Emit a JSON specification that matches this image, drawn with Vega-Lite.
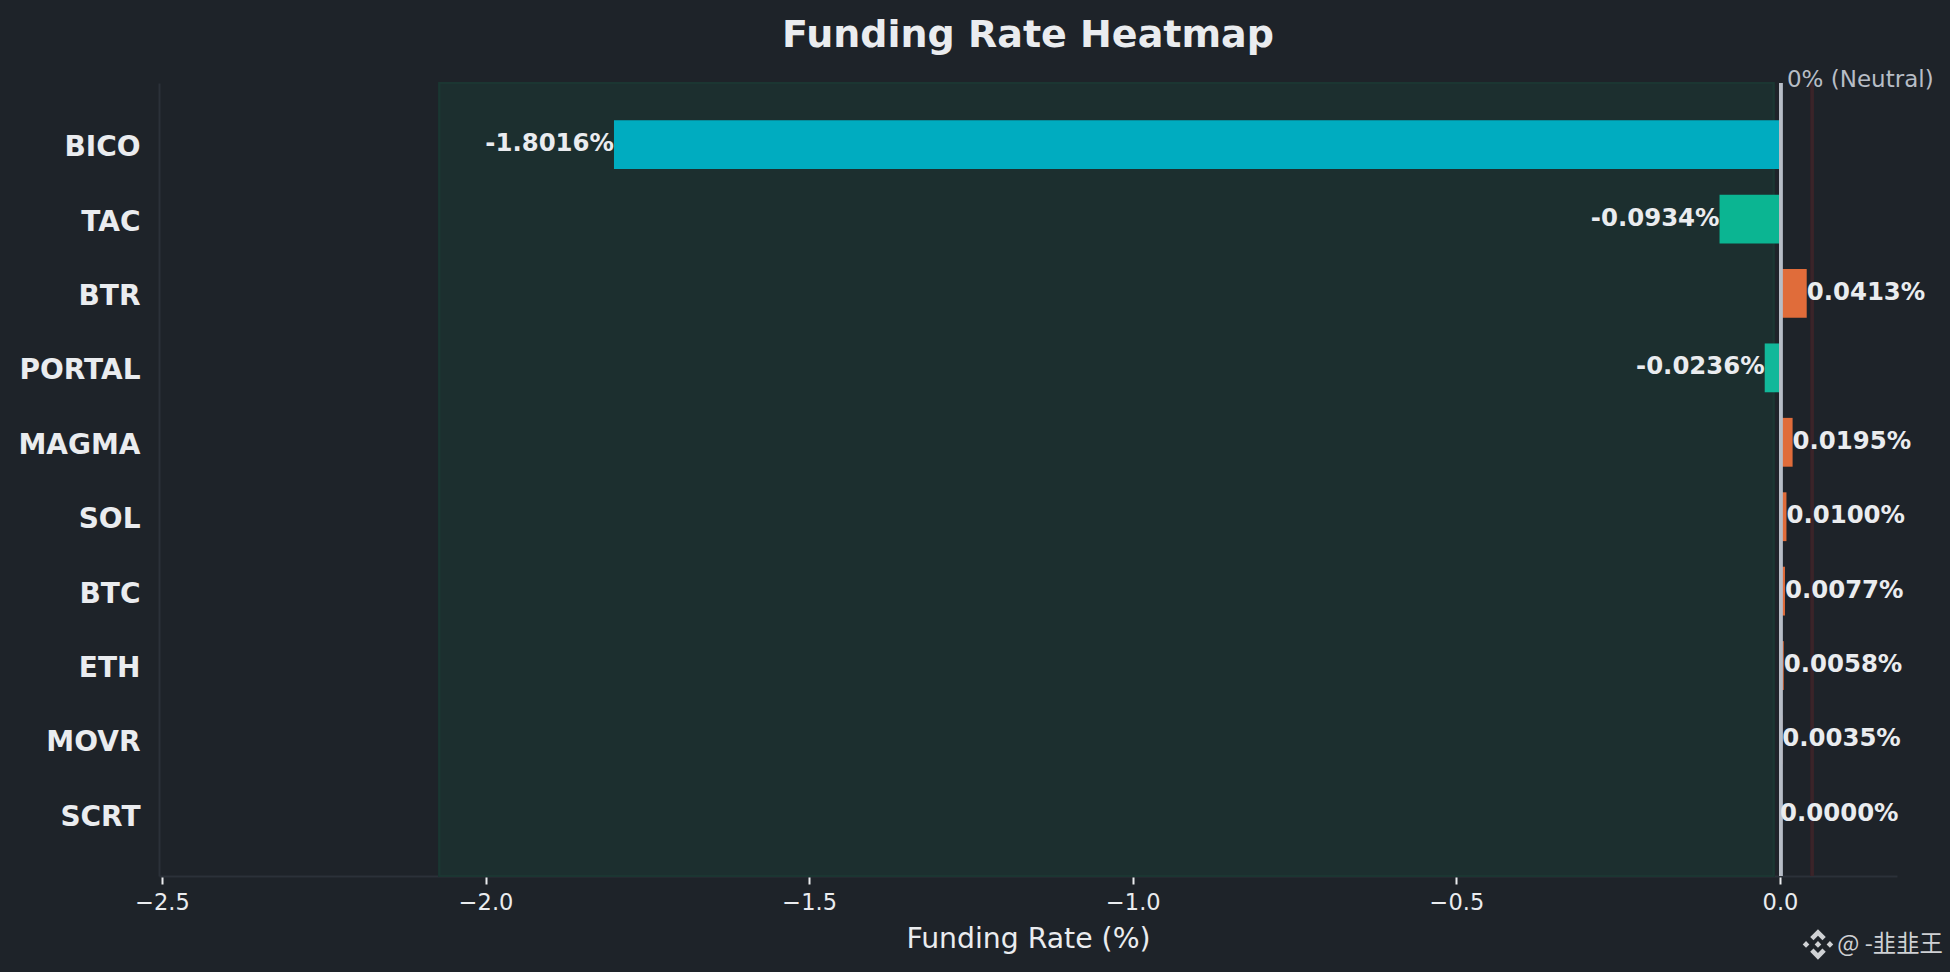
{
  "$schema": "https://vega.github.io/schema/vega-lite/v6.json",
  "width": 1738,
  "height": 793,
  "autosize": {"type": "none"},
  "padding": {"left": 159, "top": 83, "right": 53, "bottom": 96},
  "background": "#1e2329",
  "title": {
    "text": "Funding Rate Heatmap",
    "anchor": "middle",
    "font": "DejaVu Sans",
    "fontSize": 38,
    "fontWeight": "bold",
    "color": "#eaecef",
    "offset": 13.5
  },
  "config": {"view": {"stroke": null}},
  "datasets": {
    "rates": [
      {"symbol": "BICO", "rate": -1.8016, "label": "-1.8016%"},
      {"symbol": "TAC", "rate": -0.0934, "label": "-0.0934%"},
      {"symbol": "BTR", "rate": 0.0413, "label": "0.0413%"},
      {"symbol": "PORTAL", "rate": -0.0236, "label": "-0.0236%"},
      {"symbol": "MAGMA", "rate": 0.0195, "label": "0.0195%"},
      {"symbol": "SOL", "rate": 0.01, "label": "0.0100%"},
      {"symbol": "BTC", "rate": 0.0077, "label": "0.0077%"},
      {"symbol": "ETH", "rate": 0.0058, "label": "0.0058%"},
      {"symbol": "MOVR", "rate": 0.0035, "label": "0.0035%"},
      {"symbol": "SCRT", "rate": 0.0, "label": "0.0000%"}
    ]
  },
  "data": {"name": "rates"},
  "encoding": {
    "y": {
      "field": "symbol",
      "type": "nominal",
      "sort": null,
      "scale": {"paddingInner": 0.344, "paddingOuter": 0.5},
      "axis": {
        "title": null,
        "ticks": false,
        "labelFont": "DejaVu Sans",
        "labelFontSize": 28,
        "labelFontWeight": "bold",
        "labelColor": "#eaecef",
        "labelPadding": 19,
        "labelOffset": 3.5,
        "domainColor": "#2b3139",
        "domainWidth": 2,
        "grid": false
      }
    }
  },
  "layer": [
    {
      "mark": {"type": "rect", "fill": "#1c2f2f", "stroke": "#1b3632", "strokeWidth": 2},
      "encoding": {
        "y": {"value": 0},
        "y2": {"value": 793},
        "x": {
          "datum": -2.0712,
          "type": "quantitative",
          "scale": {"domain": [-2.5046, 0.1808], "nice": false, "zero": false},
          "axis": {
            "title": "Funding Rate (%)",
            "titleFont": "DejaVu Sans",
            "titleFontSize": 28.3,
            "titleFontWeight": "normal",
            "titleColor": "#eaecef",
            "titlePadding": 12,
            "values": [-2.5, -2, -1.5, -1, -0.5, 0],
            "format": ".1f",
            "labelFont": "DejaVu Sans",
            "labelFontSize": 22.5,
            "labelColor": "#eaecef",
            "labelPadding": 7,
            "tickColor": "#eaecef",
            "tickWidth": 2,
            "tickSize": 8,
            "domainColor": "#2b3139",
            "domainWidth": 2,
            "grid": false
          }
        },
        "x2": {"datum": -0.01}
      }
    },
    {
      "mark": {"type": "rule", "color": "#3a2429", "strokeWidth": 3},
      "encoding": {"x": {"datum": 0.05, "type": "quantitative"}, "y": {"value": 0}, "y2": {"value": 793}}
    },
    {
      "mark": {"type": "bar"},
      "encoding": {
        "x": {"field": "rate", "type": "quantitative"},
        "x2": {"datum": 0},
        "color": {
          "field": "symbol",
          "type": "nominal",
          "sort": null,
          "legend": null,
          "scale": {
            "domain": ["BICO", "TAC", "BTR", "PORTAL", "MAGMA", "SOL", "BTC", "ETH", "MOVR", "SCRT"],
            "range": ["#00acc0", "#0bb592", "#e06c3a", "#12b89a", "#e06c3a", "#e06c3a", "#e06c3a", "#e06c3a", "#e06c3a", "#e06c3a"]
          }
        }
      }
    },
    {
      "mark": {"type": "rule", "color": "#b7bdc6", "strokeWidth": 3, "xOffset": 0.7},
      "encoding": {"x": {"datum": 0, "type": "quantitative"}, "y": {"value": 0}, "y2": {"value": 793}}
    },
    {
      "transform": [{"filter": "datum.rate < 0"}],
      "mark": {"type": "text", "align": "right", "baseline": "middle", "dy": -0.5, "font": "DejaVu Sans", "fontSize": 24.4, "fontWeight": "bold", "color": "#eaecef"},
      "encoding": {"x": {"field": "rate", "type": "quantitative"}, "text": {"field": "label"}}
    },
    {
      "transform": [{"filter": "datum.rate >= 0"}],
      "mark": {"type": "text", "align": "left", "baseline": "middle", "dy": -0.5, "font": "DejaVu Sans", "fontSize": 24.4, "fontWeight": "bold", "color": "#eaecef"},
      "encoding": {"x": {"field": "rate", "type": "quantitative"}, "text": {"field": "label"}}
    },
    {
      "transform": [{"filter": "datum.symbol === 'BICO'"}],
      "mark": {"type": "text", "align": "left", "baseline": "middle", "dx": 7, "dy": -65, "font": "DejaVu Sans", "fontSize": 23, "color": "#b7bdc6", "text": "0% (Neutral)"},
      "encoding": {"x": {"datum": 0, "type": "quantitative"}}
    },
    {
      "transform": [{"filter": "datum.symbol === 'SCRT'"}],
      "mark": {
        "type": "point",
        "filled": true,
        "opacity": 1,
        "color": "#cfd1d4",
        "size": 1100,
        "yOffset": 130,
        "shape": "M0,-.2L.2,0L0,.2L-.2,0ZM-.72,-.2L-.52,0L-.72,.2L-.92,0ZM.72,-.2L.92,0L.72,.2L.52,0ZM0,-.92L.47,-.45L.27,-.25L0,-.52L-.27,-.25L-.47,-.45ZM0,.92L-.47,.45L-.27,.25L0,.52L.27,.25L.47,.45Z"
      },
      "encoding": {"x": {"datum": 0.0587, "type": "quantitative"}}
    },
    {
      "transform": [{"filter": "datum.symbol === 'SCRT'"}],
      "mark": {"type": "text", "align": "left", "baseline": "middle", "dy": 131, "font": "Noto Sans CJK SC", "fontSize": 23.4, "color": "#cfd1d4", "text": "@ -韭韭王"},
      "encoding": {"x": {"datum": 0.0885, "type": "quantitative"}}
    }
  ]
}
